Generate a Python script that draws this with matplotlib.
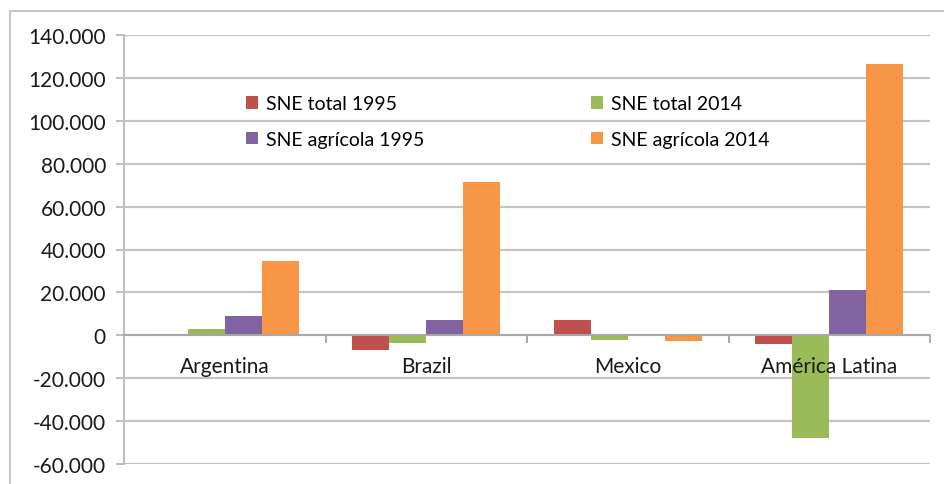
import matplotlib
matplotlib.use("Agg")
import matplotlib.pyplot as plt
import numpy as np
from matplotlib.lines import Line2D
from matplotlib.ticker import FuncFormatter

categories = ["Argentina", "Brazil", "Mexico", "América Latina"]
series_names = ["SNE total 1995", "SNE total 2014", "SNE agrícola 1995", "SNE agrícola 2014"]
sne_total_1995 = [500, -7000, 7000, -4000]
sne_total_2014 = [3000, -3500, -2000, -48000]
sne_agricola_1995 = [9000, 7000, 600, 21000]
sne_agricola_2014 = [34500, 71500, -2500, 126500]
y_ticks = [-60000, -40000, -20000, 0, 20000, 40000, 60000, 80000, 100000, 120000, 140000]

colors = ["#C0504D", "#9BBB59", "#8064A2", "#F79646"]
series = [sne_total_1995, sne_total_2014, sne_agricola_1995, sne_agricola_2014]

plt.rcParams['font.family'] = ['Lato', 'DejaVu Sans']

W, H = 944, 485
fig = plt.figure(figsize=(W/100, H/100), dpi=100)
ax = fig.add_axes([124/W, (H-465)/H, (930-124)/W, (465-36)/H])

x = np.arange(len(categories))
bw = 0.184
handles = []
for i, (vals, c, name) in enumerate(zip(series, colors, series_names)):
    bars = ax.bar(x + (i - 1.5) * bw, vals, bw, color=c, label=name, zorder=3)
    handles.append(bars)

ax.set_xlim(-0.5, len(categories) - 0.5)
ax.set_ylim(-60000, 140000)
ax.set_yticks(y_ticks)
ax.yaxis.set_major_formatter(FuncFormatter(lambda v, p: "0" if v == 0 else f"{int(v/1000)}.000"))
ax.grid(axis='y', color='#C4C4C4', linewidth=1.6, zorder=0)
ax.set_axisbelow(True)

for s in ['top', 'right']:
    ax.spines[s].set_visible(False)
ax.spines['left'].set_color('#BDBDBD')
ax.spines['left'].set_linewidth(1.4)
ax.spines['bottom'].set_position(('data', 0))
ax.spines['bottom'].set_color('#A8A8A8')
ax.spines['bottom'].set_linewidth(1.4)
ax.spines['bottom'].set_zorder(4)

ax.set_xticks(x)
ax.set_xticklabels([])
ax.set_xticks(np.arange(len(categories) + 1) - 0.5, minor=True)
ax.tick_params(axis='x', which='major', length=0)
ax.tick_params(axis='x', which='minor', length=6, width=1.4, color='#A8A8A8', direction='out')
ax.tick_params(axis='y', length=6, width=1.4, color='#BDBDBD', labelsize=15, labelcolor='#1a1a1a', pad=7)

for xi, cat in zip(x, categories):
    ax.annotate(cat, (xi, 0), xytext=(0, -22), textcoords='offset points',
                ha='center', va='center', fontsize=15, color='#1a1a1a', zorder=6)

order = [0, 2, 1, 3]
leg = ax.legend([handles[i] for i in order], [series_names[i] for i in order], ncol=2,
                loc='upper left', bbox_to_anchor=(0.13, 0.90), frameon=False,
                fontsize=14, handlelength=0.6, handleheight=0.6, handletextpad=0.4,
                columnspacing=8.6, labelspacing=0.95)

# outer chart border
fig.add_artist(Line2D([10/W, 10/W], [0, 1 - 12/H], color='#C8C8C8', linewidth=1.5))
fig.add_artist(Line2D([10/W, 1], [1 - 12/H, 1 - 12/H], color='#C8C8C8', linewidth=1.5))

fig.savefig("out.png", dpi=100)
